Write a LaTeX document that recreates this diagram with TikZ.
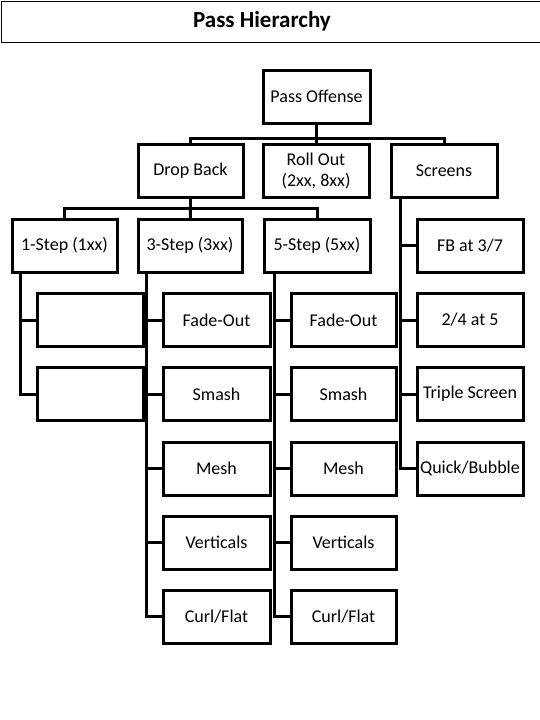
\documentclass[tikz,border=0pt]{standalone}
\usepackage{fontspec}
\setmainfont{Carlito}
\usetikzlibrary{calc}
\begin{document}
\begin{tikzpicture}[x=1pt,y=-1pt,
  box/.style={draw=black,line width=3pt,fill=white,minimum width=105pt,minimum height=53pt,inner sep=0pt,align=center,font=\fontsize{18}{21}\selectfont},
  link/.style={line width=3pt,line cap=rect}]
\useasboundingbox (0,0) rectangle (540,720);
\clip (0,0) rectangle (540,720);
\fill[white] (0,0) rectangle (540,720);
% title
\node[draw=black,line width=1.4pt,minimum width=560pt,minimum height=41pt,anchor=north west,inner sep=0pt] (tbox) at (1,1) {};
\node[font=\fontsize{23}{27}\selectfont\bfseries] (title) at (262,21) {Pass Hierarchy};
% level 0/1
\node[box,minimum width=107pt] (po) at (316.5,96.5) {Pass Offense};
\node[box] (db) at (190.5,170.5) {Drop Back};
\node[box,minimum width=106pt] (ro) at (316,170.5) {Roll Out\\(2xx, 8xx)};
\node[box,minimum width=106pt] (sc) at (444,170.5) {Screens};
% level 2
\node[box] (s1) at (64.5,245.5) {1-Step (1xx)};
\node[box,minimum width=104pt] (s3) at (190,245.5) {3-Step (3xx)};
\node[box,minimum width=106pt] (s5) at (317,245.5) {5-Step (5xx)};
\node[box,minimum width=106pt] (fb) at (470,245.5) {FB at 3/7};
% 1-step children
\node[box,minimum width=106pt] (a1) at (90,320) {};
\node[box,minimum width=106pt] (a2) at (90,394) {};
% 3-step children
\node[box,minimum width=107pt] (b1) at (216.5,320) {Fade-Out};
\node[box,minimum width=107pt] (b2) at (216.5,394) {Smash};
\node[box,minimum width=107pt] (b3) at (216.5,468.5) {Mesh};
\node[box,minimum width=107pt] (b4) at (216.5,542.5) {Verticals};
\node[box,minimum width=107pt] (b5) at (216.5,616.5) {Curl/Flat};
% 5-step children
\node[box] (c1) at (343.5,320) {Fade-Out};
\node[box] (c2) at (343.5,394) {Smash};
\node[box] (c3) at (343.5,468.5) {Mesh};
\node[box] (c4) at (343.5,542.5) {Verticals};
\node[box] (c5) at (343.5,616.5) {Curl/Flat};
% screens children
\node[box,minimum width=106pt] (d1) at (470,320) {2/4 at 5};
\node[box,minimum width=106pt] (d2) at (470,394) {Triple Screen};
\node[box,minimum width=106pt] (d3) at (470,468.5) {Quick/Bubble};
% buses
\coordinate (bus1) at (316.5,138);
\draw[link] (po) -- (bus1);
\draw[link] (bus1) -| (db);
\draw[link] (bus1) -| (sc);
\draw[link] (bus1) -- (ro);
\coordinate (bus2) at (190.5,208);
\draw[link] (db) -- (bus2);
\draw[link] (bus2) -| (s1);
\draw[link] (bus2) -| (s5);
\draw[link] (bus2) -- (s3);
% branch lines
\coordinate (t1) at ($(s1.south west)+(10,0)$);
\draw[link] (t1) |- (a2.west);
\draw[link] (t1 |- a1.west) -- (a1.west);
\coordinate (t3) at ($(s3.south west)+(10,0)$);
\draw[link] (t3) |- (b5.west);
\foreach \n in {b1,b2,b3,b4} \draw[link] (t3 |- \n.west) -- (\n.west);
\coordinate (t5) at ($(s5.south west)+(12,0)$);
\draw[link] (t5) |- (c5.west);
\foreach \n in {c1,c2,c3,c4} \draw[link] (t5 |- \n.west) -- (\n.west);
\coordinate (ts) at ($(sc.south west)+(11,0)$);
\draw[link] (ts) |- (d3.west);
\foreach \n in {fb,d1,d2} \draw[link] (ts |- \n.west) -- (\n.west);
\end{tikzpicture}
\end{document}
